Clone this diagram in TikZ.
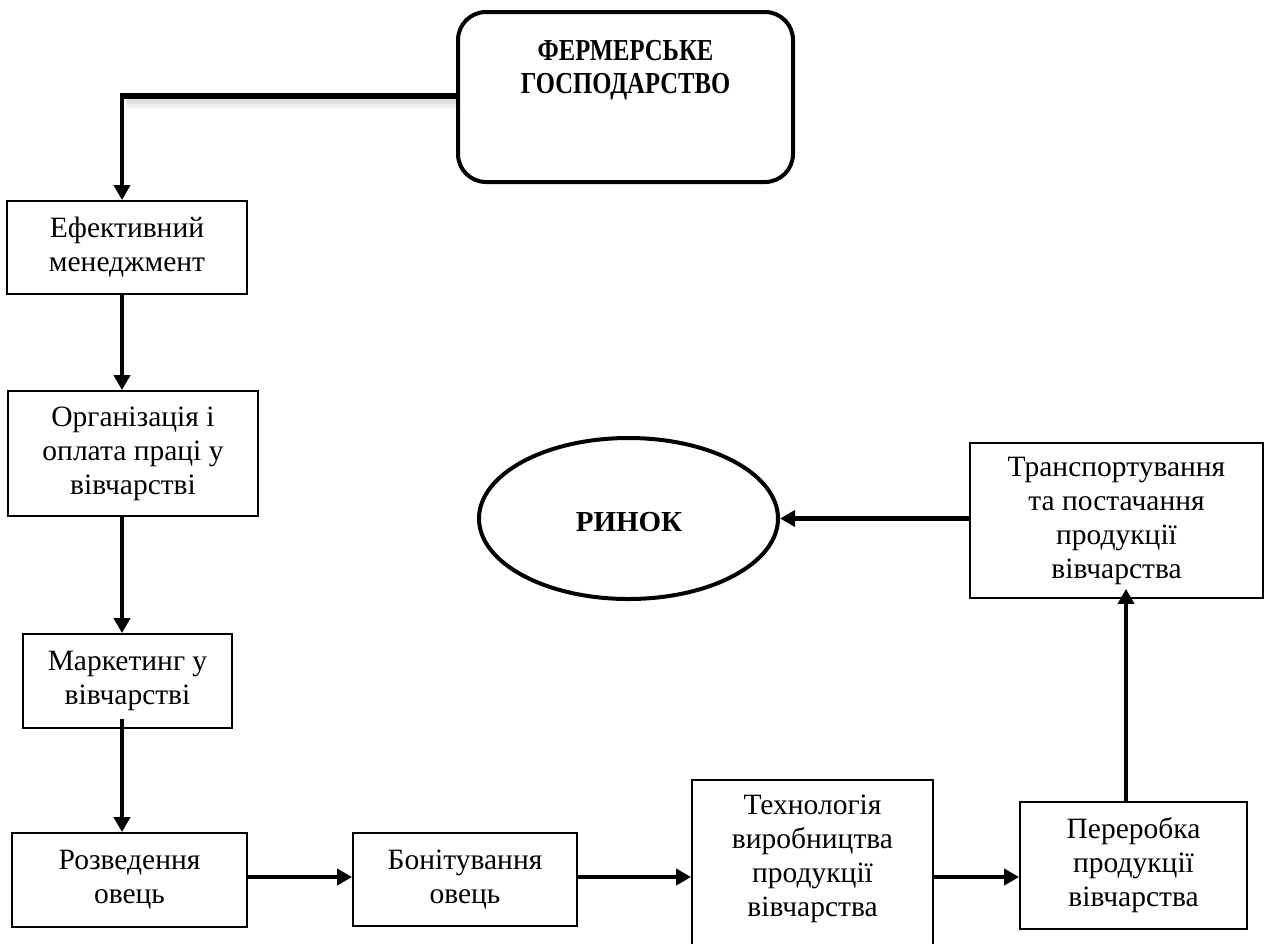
\documentclass[tikz,border=0pt]{standalone}
\usepackage{fontspec}
\usepackage{graphicx}
\setmainfont{Liberation Serif}
\usetikzlibrary{arrows.meta,shapes.geometric,calc}
\tikzset{
  box/.style={draw, line width=1.8pt, align=center, inner sep=0pt,
    font=\fontsize{29.5}{34}\selectfont},
  plain/.style={align=center, inner sep=0pt, font=\fontsize{29.5}{34}\selectfont},
  boldtxt/.style={align=center, inner sep=0pt, font=\fontsize{29}{33}\selectfont\bfseries},
  conn/.style={line width=4.5pt, -{Triangle[length=15pt,width=16pt]}},
}
\begin{document}
\begin{tikzpicture}[x=1pt,y=-1pt]
\useasboundingbox (0,0) rectangle (1265,943);
\fill[white] (0,0) rectangle (1265,943);
\clip (0,0) rectangle (1265,943);

% nodes
\node[draw, line width=4pt, rounded corners=28pt, minimum width=335pt, minimum height=170pt] (farm) at (625.5,97) {};
\node[boldtxt] (farmtxt) at (625.5,70.5) {\scalebox{0.85}[1.05]{ФЕРМЕРСЬКЕ}\\\scalebox{0.85}[1.05]{ГОСПОДАРСТВО}};

\node[box, minimum width=240pt, minimum height=93pt] (ef) at (127,247.5) {Ефективний\\менеджмент};
\node[box, minimum width=250pt, minimum height=125pt] (org) at (133,453.5) {Організація і\\оплата праці у\\вівчарстві};
\node[box, minimum width=209pt, minimum height=94pt] (mark) at (127.5,681) {Маркетинг у\\вівчарстві};
\node[box, minimum width=235pt, minimum height=94pt] (rozv) at (129.5,880) {Розведення\\овець};
\node[box, minimum width=224pt, minimum height=93pt] (bon) at (465,879.5) {Бонітування\\овець};
\node[box, minimum width=241pt, minimum height=200pt] (tech) at (812.5,880) {};
\node[plain] (techtxt) at (812.5,859) {Технологія\\виробництва\\продукції\\вівчарства};
\node[box, minimum width=227pt, minimum height=127pt] (per) at (1133.5,865.5) {Переробка\\продукції\\вівчарства};
\node[box, minimum width=293pt, minimum height=155pt] (trans) at (1116.5,520.5) {Транспортування\\та постачання\\продукції\\вівчарства};
\node[ellipse, draw, line width=4pt, minimum width=299pt, minimum height=161pt, inner sep=0pt] (market) at (628.5,518.5) {};
\node[boldtxt] (markettxt) at (629,522) {РИНОК};

% helper coordinates
\coordinate (spine) at (122,95.5);
\coordinate (row) at (0,877);
\coordinate (col) at (1126,0);

% connector from farm
\draw[line width=6pt, black!12] ($(farm.west |- spine)+(0,6)$) -- ($(spine)+(4,6)$);
\draw[line width=4pt, black!6] ($(farm.west |- spine)+(0,10)$) -- ($(spine)+(4,10)$);
\draw[line width=6pt] (farm.west |- spine) -- ($(spine)+(-2.5,0)$);
\draw[conn] ($(spine)+(0,-2)$) -- (ef.north -| spine);

\draw[conn] (ef.south -| spine) -- (org.north -| spine);
\draw[conn] (org.south -| spine) -- (mark.north -| spine);
\draw[conn] ($(mark.south -| spine)+(0,-10)$) -- (rozv.north -| spine);
\draw[conn] (rozv.east |- row) -- (bon.west |- row);
\draw[conn] (bon.east |- row) -- (tech.west |- row);
\draw[conn] (tech.east |- row) -- (per.west |- row);
\draw[conn] (per.north -| col) -- ($(trans.south -| col)+(0,-10)$);
\draw[conn] (trans.west |- market.east) -- (market.east);
\end{tikzpicture}
\end{document}
